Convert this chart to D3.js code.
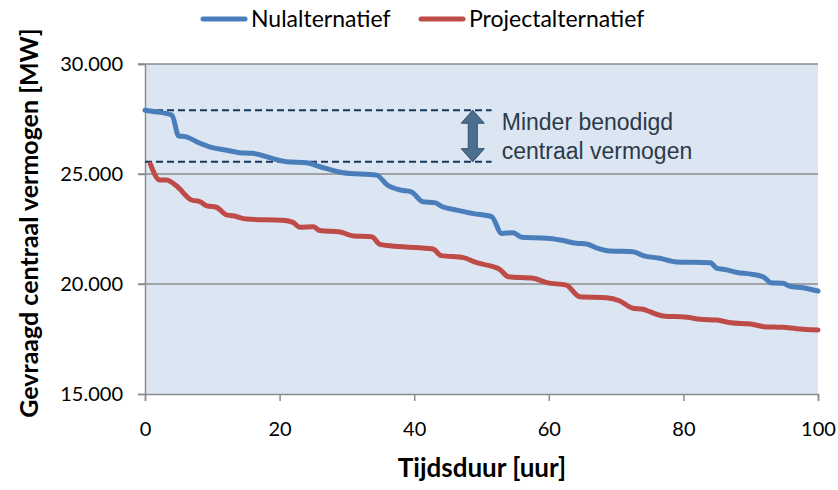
<!DOCTYPE html>
<html>
<head>
<meta charset="utf-8">
<script src="https://cdn.jsdelivr.net/npm/d3@7"></script>
<style>
    body { margin: 0; background: #fff; }
    svg { display: block; }
</style>
</head>
<body>
<div id="chart"></div>
<script>
// series (hours, MW)
const nulHours = [0, 1, 4, 5, 6, 8, 10, 12, 14, 16, 19, 21, 24, 26, 29.4, 34.4, 36, 38, 39.5, 41.3,
    43, 44.3, 46.3, 48.8, 51.5, 53, 54.7, 56, 59.7, 61.7, 64.1, 65.6, 67.3, 69, 72.5, 74, 76.5, 79,
    84, 85, 86, 88, 90, 92, 93, 94.8, 95.8, 97.8, 100];
const nulValues = [27900, 27850, 27680, 26730, 26700, 26420, 26200, 26090, 25970, 25940, 25700, 25560,
    25510, 25330, 25060, 24950, 24500, 24270, 24200, 23740, 23700, 23500, 23360, 23200, 23060, 22300,
    22330, 22120, 22080, 22000, 21850, 21820, 21620, 21500, 21470, 21290, 21170, 21000, 20970, 20710,
    20670, 20520, 20450, 20300, 20060, 20030, 19900, 19830, 19680];

const projHours = [0.8, 2.2, 3.2, 4.7, 6.9, 8.2, 9.2, 10.6, 12.1, 13.1, 15.1, 20.5, 22, 23, 25, 26, 29,
    31, 33.7, 34.9, 37.9, 42.8, 44, 47.3, 49.3, 51.3, 52.7, 54, 57.7, 59.7, 62.6, 64.6, 68.6, 70.5, 72.5,
    74, 75, 77, 80.5, 82.5, 85, 87, 90, 92, 94.8, 96.8, 100];
const projValues = [25450, 24730, 24730, 24450, 23820, 23740, 23550, 23490, 23140, 23100, 22950, 22900,
    22800, 22580, 22600, 22430, 22360, 22180, 22150, 21800, 21700, 21590, 21290, 21200, 20970, 20820,
    20670, 20330, 20260, 20060, 19950, 19420, 19380, 19240, 18900, 18850, 18740, 18550, 18490, 18400,
    18360, 18240, 18180, 18060, 18030, 17970, 17910];

const seriesNames = ['Nulalternatief', 'Projectalternatief'];
const seriesColors = ['#4A7EBB', '#BE4B48'];

const xTicks = [0, 20, 40, 60, 80, 100];
const yTicks = [15000, 20000, 25000, 30000];
const gridValues = [20000, 25000, 30000];

// dashed reference levels and annotation
const refLevels = [27900, 25560];
const refEndHour = 51.5;
const arrowHour = 48.7;
const noteLines = ['Minder benodigd', 'centraal vermogen'];

const width = 838, height = 490;
const plot = {left: 145, right: 818, top: 64, bottom: 394};

const svg = d3.select('#chart').append('svg')
    .attr('width', width)
    .attr('height', height);

const x = d3.scaleLinear().domain([0, 100]).range([plot.left, plot.right]);
const y = d3.scaleLinear().domain([15000, 30000]).range([plot.bottom, plot.top]);

const nl = d3.formatLocale({decimal: ',', thousands: '.', grouping: [3], currency: ['', '']});
const fmt = nl.format(',d');

// plot background
svg.append('rect')
    .attr('x', plot.left)
    .attr('y', plot.top)
    .attr('width', plot.right - plot.left)
    .attr('height', plot.bottom - plot.top)
    .attr('fill', '#DCE6F2');

// gridlines
svg.append('g').selectAll('line')
    .data(gridValues)
    .join('line')
    .attr('x1', plot.left - 7)
    .attr('x2', plot.right)
    .attr('y1', d => y(d))
    .attr('y2', d => y(d))
    .attr('stroke', '#8C8C8C')
    .attr('stroke-width', 1.5);

// y axis
const yAxis = svg.append('g')
    .attr('transform', `translate(${plot.left},0)`)
    .call(d3.axisLeft(y).tickValues(yTicks).tickFormat(fmt).tickSize(7).tickPadding(15));
yAxis.select('.domain').attr('stroke', '#8C8C8C').attr('stroke-width', 1.5);
yAxis.selectAll('.tick line').attr('stroke', '#8C8C8C').attr('stroke-width', 1.5);
yAxis.selectAll('.tick text')
    .attr('font-family', 'Lato, sans-serif')
    .attr('font-size', 20)
    .attr('fill', '#000');

// x axis
const xAxis = svg.append('g')
    .attr('transform', `translate(0,${plot.bottom})`)
    .call(d3.axisBottom(x).tickValues(xTicks).tickSize(7).tickPadding(21));
xAxis.select('.domain').attr('stroke', '#8C8C8C').attr('stroke-width', 1.5);
xAxis.selectAll('.tick line').attr('stroke', '#8C8C8C').attr('stroke-width', 1.5);
xAxis.selectAll('.tick text')
    .attr('font-family', 'Lato, sans-serif')
    .attr('font-size', 20)
    .attr('fill', '#000');

// dashed reference lines
svg.append('g').selectAll('line')
    .data(refLevels)
    .join('line')
    .attr('x1', x(0))
    .attr('x2', x(refEndHour))
    .attr('y1', d => y(d))
    .attr('y2', d => y(d))
    .attr('stroke', '#17375E')
    .attr('stroke-width', 2)
    .attr('stroke-dasharray', '7,4');

// series lines
const line = d3.line()
    .x(d => x(d[0]))
    .y(d => y(d[1]))
    .curve(d3.curveMonotoneX);

const series = [
    d3.zip(nulHours, nulValues),
    d3.zip(projHours, projValues)
];

svg.append('g').selectAll('path')
    .data(series)
    .join('path')
    .attr('d', line)
    .attr('fill', 'none')
    .attr('stroke', (d, i) => seriesColors[i])
    .attr('stroke-width', 5)
    .attr('stroke-linejoin', 'round')
    .attr('stroke-linecap', 'round');

// double headed arrow
const ax = x(arrowHour), at = y(refLevels[0]), ab = y(refLevels[1]);
const headH = 13, headW = 11.5, shaftW = 4.5;
const arrowPath = [
    [ax, at], [ax + headW, at + headH], [ax + shaftW, at + headH],
    [ax + shaftW, ab - headH], [ax + headW, ab - headH], [ax, ab],
    [ax - headW, ab - headH], [ax - shaftW, ab - headH], [ax - shaftW, at + headH],
    [ax - headW, at + headH]
];
svg.append('path')
    .attr('d', 'M' + arrowPath.map(p => p.join(',')).join('L') + 'Z')
    .attr('fill', '#4B6F8F')
    .attr('stroke', '#2F4D6B')
    .attr('stroke-width', 1);

// annotation text
svg.append('g').selectAll('text')
    .data(noteLines)
    .join('text')
    .attr('x', ax + 29)
    .attr('y', (d, i) => 130 + i * 29)
    .attr('font-family', '"Liberation Sans", Arial, sans-serif')
    .attr('font-size', 23)
    .attr('fill', '#2B3A4A')
    .text(d => d);

// legend
const legendX = [203, 421];
const legend = svg.append('g').selectAll('g')
    .data(seriesNames)
    .join('g')
    .attr('transform', (d, i) => `translate(${legendX[i]},19)`);
legend.append('line')
    .attr('x1', 0).attr('x2', 42)
    .attr('stroke', (d, i) => seriesColors[i])
    .attr('stroke-width', 5)
    .attr('stroke-linecap', 'round');
legend.append('text')
    .attr('x', 48)
    .attr('y', 8)
    .attr('font-family', 'Lato, sans-serif')
    .attr('font-size', 23)
    .attr('fill', '#000')
    .text(d => d);

// axis titles
svg.append('text')
    .attr('x', 482)
    .attr('y', 477)
    .attr('text-anchor', 'middle')
    .attr('font-family', 'Lato, sans-serif')
    .attr('font-weight', 'bold')
    .attr('font-size', 26)
    .text('Tijdsduur [uur]');

svg.append('text')
    .attr('transform', 'translate(38,223) rotate(-90)')
    .attr('text-anchor', 'middle')
    .attr('font-family', 'Lato, sans-serif')
    .attr('font-weight', 'bold')
    .attr('font-size', 25)
    .text('Gevraagd centraal vermogen [MW]');
</script>
</body>
</html>
